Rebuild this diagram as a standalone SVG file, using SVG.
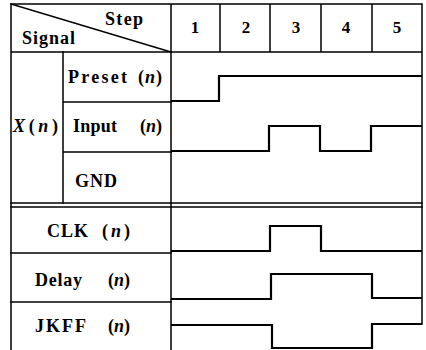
<svg xmlns="http://www.w3.org/2000/svg" width="426" height="350" viewBox="0 0 426 350">
<style>
.g{stroke:#000;stroke-width:1.5;fill:none;stroke-linecap:square}
.s{stroke:#000;stroke-width:2.2;fill:none;stroke-linejoin:miter}
text{font-family:"Liberation Serif","Times New Roman",serif;font-size:18px;font-weight:bold;fill:#000}
.num{font-size:17px;text-anchor:middle}
.i{font-style:italic}
</style>
<rect width="426" height="350" fill="#fff"/>
<g id="grid" class="g">
<path d="M11,4H422M11,4V350M422,4V324M11,52H422M171,4V350M220,4V52M270,4V52M321,4V52M372,4V52"/>
<path d="M11,4L171,52"/>
<path d="M63,52V203M63,102H171M63,152H171"/>
<path d="M11,203H422M11,207H422"/>
<path d="M11,253H171M11,302H171"/>
</g>
<g id="header">
<text x="105" y="25" textLength="38" lengthAdjust="spacing">Step</text>
<text x="22" y="44" textLength="53" lengthAdjust="spacing">Signal</text>
<text class="num" x="195" y="33">1</text>
<text class="num" x="246" y="33">2</text>
<text class="num" x="296" y="33">3</text>
<text class="num" x="346" y="33">4</text>
<text class="num" x="397" y="33">5</text>
</g>
<g id="labels">
<text x="13" y="132" textLength="45" lengthAdjust="spacing"><tspan class="i">X</tspan>(<tspan class="i">n</tspan>)</text>
<text x="68" y="83" textLength="59" lengthAdjust="spacing">Preset</text>
<text x="138" y="83" textLength="24" lengthAdjust="spacing">(<tspan class="i">n</tspan>)</text>
<text x="73" y="132" textLength="44" lengthAdjust="spacing">Input</text>
<text x="140" y="132" textLength="22" lengthAdjust="spacing">(<tspan class="i">n</tspan>)</text>
<text x="75" y="187" textLength="42" lengthAdjust="spacing">GND</text>
<text x="47" y="237" textLength="41" lengthAdjust="spacing">CLK</text>
<text x="102" y="237" textLength="28" lengthAdjust="spacing">(<tspan class="i">n</tspan>)</text>
<text x="35" y="286" textLength="47" lengthAdjust="spacing">Delay</text>
<text x="108" y="286" textLength="22" lengthAdjust="spacing">(<tspan class="i">n</tspan>)</text>
<text x="35" y="332" textLength="51" lengthAdjust="spacing">JKFF</text>
<text x="108" y="332" textLength="22" lengthAdjust="spacing">(<tspan class="i">n</tspan>)</text>
</g>
<g id="signals" class="s">
<path id="preset" d="M171,101H219V76H422"/>
<path id="input" d="M171,151H269V126H320V151H371V126H422"/>
<path id="clk" d="M171,251H270V226H321V251H422"/>
<path id="delay" d="M171,299H271V274H372V298H422"/>
<path id="jkff" d="M171,325H272V348H372V324H422"/>
</g>
</svg>
